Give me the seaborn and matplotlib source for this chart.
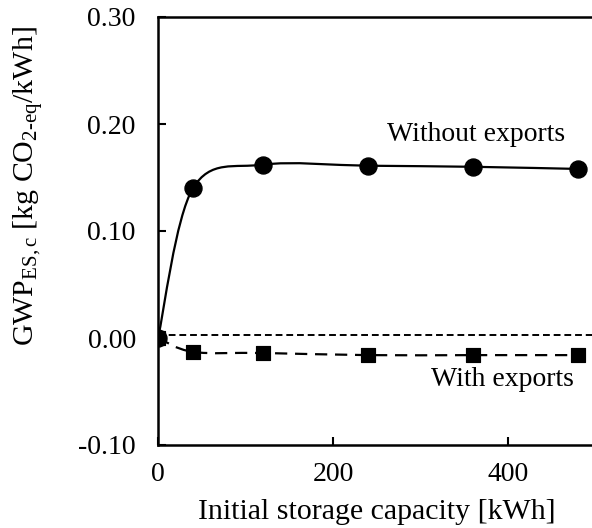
import numpy as np
import pandas as pd
import matplotlib
matplotlib.use("Agg")
import matplotlib.pyplot as plt
from matplotlib.path import Path
from matplotlib.patches import PathPatch
import seaborn as sns

# ---- data ----
capacity = [0, 40, 120, 240, 360, 480]
without_exports = [0.0, 0.140, 0.162, 0.161, 0.160, 0.158]
with_exports = [0.0, -0.013, -0.014, -0.016, -0.016, -0.016]
xticks = [0, 200, 400]
yticks = [-0.10, 0.00, 0.10, 0.20, 0.30]
ytick_labels = ["-0.10", "0.00", "0.10", "0.20", "0.30"]
zero_line = 0.003

sns.set_theme(style="white")
plt.rcParams["font.family"] = ["Liberation Serif", "DejaVu Serif"]
plt.rcParams["mathtext.fontset"] = "custom"
plt.rcParams["mathtext.rm"] = "Liberation Serif"
plt.rcParams["mathtext.it"] = "Liberation Serif:italic"

fig = plt.figure(figsize=(5.92, 5.28), dpi=100)
W, H = 592, 528
left, right_px, top, bottom = 158, 595.5, 17, 445
ax = fig.add_axes([left / W, (H - bottom) / H, (right_px - left) / W, (bottom - top) / H])


def smooth_path(xs, ys):
    """Excel-style smoothed line as cubic Bezier segments through the points."""
    pts = np.column_stack([xs, ys]).astype(float)
    n = len(pts)
    verts = [pts[0]]
    codes = [Path.MOVETO]
    for i in range(n - 1):
        p0 = pts[i - 1] if i > 0 else pts[i]
        p1 = pts[i]
        p2 = pts[i + 1]
        p3 = pts[i + 2] if i + 2 < n else pts[i + 1]
        c1 = p1 + (p2 - p0) / 6.0
        c2 = p2 - (p3 - p1) / 6.0
        verts += [c1, c2, p2]
        codes += [Path.CURVE4] * 3
    return Path(verts, codes)


ax.add_patch(PathPatch(smooth_path(capacity, without_exports), fill=False,
                       edgecolor="black", lw=1.6, zorder=2))
ax.add_patch(PathPatch(smooth_path(capacity, with_exports), fill=False,
                       edgecolor="black", lw=1.6, linestyle=(0, (5.5, 3.5)), zorder=2))

ax.axhline(zero_line, color="black", lw=1.4, linestyle=(0, (3.5, 2)), zorder=1)

df = pd.DataFrame({"x": capacity, "wo": without_exports, "w": with_exports})
sns.scatterplot(data=df, x="x", y="wo", marker="o", s=150, color="black",
                edgecolor="black", ax=ax, zorder=3)
sns.scatterplot(data=df, x="x", y="w", marker="s", s=110, color="black",
                edgecolor="black", ax=ax, zorder=3)

ax.set_xlim(0, 500)
ax.set_ylim(-0.10, 0.30)
ax.set_xticks(xticks)
ax.set_xticklabels([str(t) for t in xticks])
ax.set_yticks(yticks)
ax.set_yticklabels(ytick_labels)
ax.tick_params(direction="in", length=6, width=1.5, colors="black",
               labelsize=20, left=True, bottom=True)
ax.tick_params(axis="y", pad=16)
ax.tick_params(axis="x", pad=12)

for s in ["left", "bottom", "top"]:
    ax.spines[s].set_visible(True)
    ax.spines[s].set_color("black")
    ax.spines[s].set_linewidth(1.8)
ax.spines["right"].set_visible(False)

ax.set_xlabel("Initial storage capacity [kWh]", fontsize=21.5, color="black", labelpad=9)
ax.set_ylabel(r"GWP$_{\mathrm{ES,c}}$ [kg CO$_{\mathrm{2\text{-}eq}}$/kWh]", fontsize=21.5,
              color="black")
ax.yaxis.set_label_coords(-113 / (right_px - left), (H - 186 - (H - bottom)) / (bottom - top))

ax.text(465, 0.19, "Without exports", fontsize=20, ha="right", va="center", color="black")
ax.text(475, -0.039, "With exports", fontsize=20, ha="right", va="center", color="black")

fig.savefig("out.png", dpi=100)
